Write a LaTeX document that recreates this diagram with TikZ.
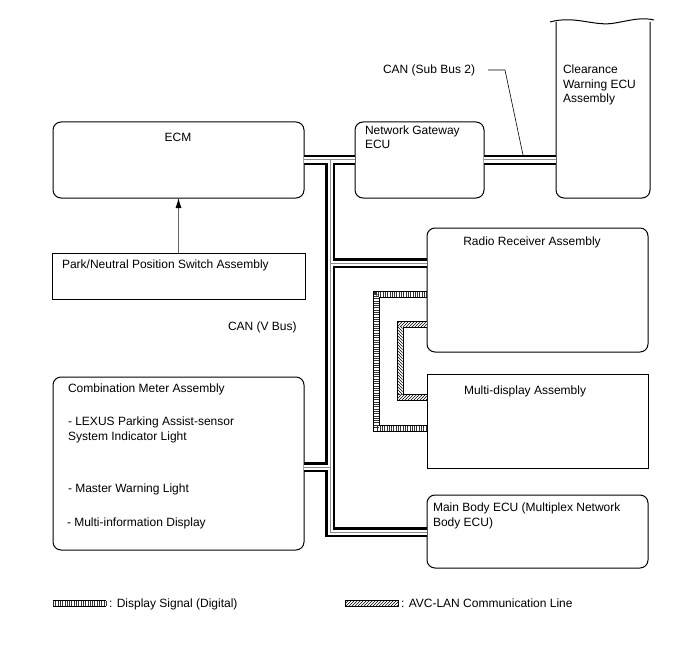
\documentclass[tikz,border=0pt]{standalone}
\usepackage{fontspec}
\setmainfont{Liberation Sans}
\usepackage{tikz}
\usetikzlibrary{arrows.meta,patterns}

\begin{document}
\begin{tikzpicture}[x=1pt,y=-1pt,
  lbl/.style={inner sep=0pt,outer sep=0pt,anchor=base west,font=\fontsize{12}{14.5}\selectfont},
  ubox/.style={draw,line width=1pt,inner sep=0pt,outer sep=0pt},
  rbox/.style={ubox,rounded corners=8pt},
  canbus/.style={draw=black,line width=10pt,
    postaction={draw=white,line width=5pt},
    postaction={draw=black!45,line width=1pt}},
  dsig/.style={draw=black,line width=7pt,
    postaction={draw=white,line width=5pt},
    postaction={draw=black!80,line width=5pt,dash pattern=on 0.7pt off 1.6pt}},
  avcout/.style={draw=black,line width=7pt,
    postaction={draw=white,line width=5pt}},
  sigarrow/.style={draw=black!60,line width=0.8pt,-{Latex[length=10pt,width=6pt,color=black]}}]
\path[use as bounding box] (0,0) rectangle (688,658);
\path[fill=white,draw=none] (0,0) rectangle (688,658);
% units
\node[rbox,minimum width=251pt,minimum height=76pt] (ecm) at (178.5,160) {};
\node[ubox,minimum width=253pt,minimum height=46pt] (pn) at (178.5,276) {};
\node[rbox,minimum width=129pt,minimum height=76pt] (gw) at (419.5,160) {};
\node[rbox,minimum width=221pt,minimum height=124pt] (rr) at (537.5,290) {};
\node[ubox,minimum width=221pt,minimum height=94pt] (md) at (537.5,421) {};
\node[rbox,minimum width=221pt,minimum height=73pt] (mb) at (537.5,531.5) {};
\node[rbox,minimum width=251pt,minimum height=173pt] (cm) at (178.5,463.5) {};
\node[inner sep=0pt,outer sep=0pt,minimum width=94pt,minimum height=176pt] (clr) at (603,110) {};
\draw[line width=1pt] (clr.north west) [rounded corners=8pt] -- (clr.south west) -- (clr.south east) [sharp corners] -- (clr.north east);
\draw[line width=1pt] (550,22) .. controls (575,15) and (595,27) .. (615,23) .. controls (632,20) and (642,17) .. (654,20);
% texts
\node[lbl,anchor=base] (ecmT) at (178,142) {ECM};
\node[lbl] (pnT) at (62,268) {Park/Neutral Position Switch Assembly};
\node[lbl] (gwT1) at (365,135) {Network Gateway};
\node[lbl] (gwT2) at (365,149) {ECU};
\node[lbl] (clrT1) at (563,74) {Clearance};
\node[lbl] (clrT2) at (563,88.5) {Warning ECU};
\node[lbl] (clrT3) at (563,103) {Assembly};
\node[lbl] (cansub) at (383,74) {CAN (Sub Bus 2)};
\node[lbl] (canv) at (228,330) {CAN (V Bus)};
\node[lbl,anchor=base] (rrT) at (532,245) {Radio Receiver Assembly};
\node[lbl] (mdT) at (464,394) {Multi-display Assembly};
\node[lbl] (mbT1) at (433,511) {Main Body ECU (Multiplex Network};
\node[lbl] (mbT2) at (433,526) {Body ECU)};
\node[lbl] (cmT1) at (68,392) {Combination Meter Assembly};
\node[lbl] (cmT2) at (68,425) {- LEXUS Parking Assist-sensor};
\node[lbl] (cmT3) at (68,440) {System Indicator Light};
\node[lbl] (cmT4) at (68,492) {- Master Warning Light};
\node[lbl] (cmT5) at (67,526) {- Multi-information Display};
% CAN (V Bus)
\coordinate (vtop) at (330,160);
\coordinate (vbot) at (330,532);
\coordinate (tapRR) at (330,263);
\coordinate (tapCM) at (330,467);
\path[canbus] (ecm.east) -- (gw.west)
  (vtop) -- (vbot) -- (vbot -| mb.west)
  (tapRR) -- (tapRR -| rr.west)
  (tapCM) -- (tapCM -| cm.east);
% CAN (Sub Bus 2)
\path[canbus] (gw.east) -- (gw.east -| clr.west);
\coordinate (subtap) at (523,155);
\draw[line width=0.6pt] (488,70) -- (505,70) -- (subtap);
% park/neutral signal
\draw[sigarrow] (pn.north) -- (ecm.south);
% display signal
\coordinate (dsA) at (376,294);
\coordinate (dsB) at (376,428);
\path[dsig] (dsA -| rr.west) -- (dsA) -- (dsB) -- (dsB -| md.west);
% AVC-LAN
\coordinate (avA) at (400,324);
\coordinate (avB) at (400,397);
\path[avcout] (avA -| rr.west) -- (avA) -- (avB) -- (avB -| md.west);
\fill[pattern=north east lines] (397.5,321.5) rectangle (427,326.5);
\fill[pattern=north west lines] (397.5,326.5) rectangle (402.5,394.5);
\fill[pattern=north east lines] (397.5,394.5) rectangle (427,399.5);
% legend
\path[dsig] (53,603) -- (106,603);
\node[lbl] (lgDs) at (109,607) {: Display Signal (Digital)};
\fill[pattern=north east lines] (345,600) rectangle (398,606);
\draw[line width=0.8pt] (345,600) rectangle (398,606);
\node[lbl] (lgAv) at (401,607) {: AVC-LAN Communication Line};
\end{tikzpicture}
\end{document}
